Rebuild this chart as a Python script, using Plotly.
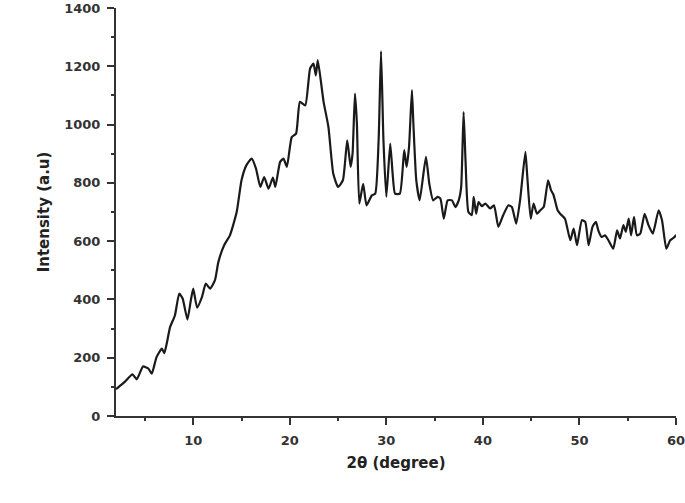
import plotly.graph_objects as go

two_theta = [2.0, 2.25, 2.9, 3.7, 4.15, 4.8, 5.35, 5.7, 6.2, 6.75, 7.0, 7.25, 7.6, 8.1, 8.55, 8.9,
             9.4, 9.75, 10.0, 10.4, 10.9, 11.3, 11.75, 12.25, 12.6, 13.2, 13.8, 14.5, 15.0, 15.5,
             16.05, 16.5, 16.95, 17.35, 17.8, 18.25, 18.5, 19.0, 19.35, 19.7, 20.2, 20.65, 21.05,
             21.6, 22.1, 22.45, 22.7, 22.9, 23.5, 24.0, 24.5, 25.0, 25.5, 25.95, 26.3, 26.5, 26.75,
             26.95, 27.2, 27.6, 27.95, 28.5, 28.85, 29.2, 29.45, 29.7, 30.0, 30.4, 30.65, 30.9,
             31.4, 31.85, 32.1, 32.35, 32.65, 32.8, 33.1, 33.45, 34.1, 34.45, 34.85, 35.3, 35.6,
             35.95, 36.35, 36.8, 37.15, 37.5, 37.75, 38.0, 38.2, 38.5, 38.85, 39.05, 39.3, 39.55,
             39.9, 40.25, 40.75, 41.15, 41.6, 42.1, 42.65, 43.0, 43.45, 43.85, 44.4, 44.6, 44.95,
             45.25, 45.6, 45.95, 46.3, 46.75, 47.05, 47.3, 47.75, 48.0, 48.5, 49.05, 49.4, 49.75,
             50.25, 50.6, 50.95, 51.35, 51.7, 51.95, 52.3, 52.65, 53.0, 53.5, 53.9, 54.2, 54.55,
             54.8, 55.1, 55.35, 55.65, 55.95, 56.3, 56.75, 57.15, 57.6, 58.2, 58.55, 59.0, 59.4,
             59.85, 60.0]

intensity = [92, 99, 117, 143, 126, 170, 163, 145, 202, 231, 216, 248, 305, 345, 420, 403,
             331, 397, 437, 372, 408, 454, 437, 466, 528, 586, 620, 700, 809, 860,
             883, 849, 786, 820, 780, 818, 786, 872, 883, 855, 957, 969, 1078,
             1066, 1192, 1209, 1169, 1221, 1078, 992, 832, 786, 809, 946, 855, 900, 1106,
             1003, 729, 797, 723, 757, 763, 946, 1252, 946, 752, 935, 832, 763,
             763, 912, 855, 923, 1118, 1003, 809, 740, 889, 797, 740, 752, 746,
             677, 740, 740, 717, 740, 786, 1043, 877, 700, 689, 752, 694, 734,
             720, 729, 712, 723, 649, 689, 723, 717, 660, 740, 906, 820, 677,
             729, 694, 706, 717, 809, 775, 760, 705, 694, 677, 603, 643, 586,
             672, 666, 586, 649, 666, 637, 614, 620, 603, 574, 637, 609, 655,
             632, 677, 620, 683, 620, 626, 694, 655, 626, 706, 672, 574, 603,
             614, 622]

x_ticks = [10, 20, 30, 40, 50, 60]
y_ticks = [0, 200, 400, 600, 800, 1000, 1200, 1400]

axis_color = "#333333"
font_family = "DejaVu Sans, Verdana, sans-serif"

fig = go.Figure()
fig.add_trace(go.Scatter(
    x=two_theta, y=intensity, mode="lines",
    line=dict(color="#1a1a1a", width=2.2, shape="spline", smoothing=0.5),
    showlegend=False, hoverinfo="skip",
))

fig.update_layout(
    width=685, height=503,
    margin=dict(l=116, r=9, t=8, b=87, autoexpand=False),
    paper_bgcolor="white", plot_bgcolor="white",
    font=dict(family=font_family, color=axis_color, size=12),
)

fig.update_xaxes(
    range=[2, 60], tickvals=x_ticks, ticktext=[str(v) for v in x_ticks], automargin=False,
    showline=True, linecolor=axis_color, linewidth=2, showgrid=False, zeroline=False,
    ticks="outside", ticklen=7, tickwidth=2, tickcolor=axis_color, ticklabelstandoff=4,
    ticklabeloverflow="allow",
    minor=dict(ticks="outside", ticklen=3, tickwidth=2, tickcolor=axis_color, dtick=5, tick0=0, showgrid=False),
    tickfont=dict(size=13, family=font_family, color=axis_color, weight="bold"),
    title=dict(text="2θ (degree)", font=dict(size=15, family=font_family, color="#222222", weight="bold"), standoff=11),
)
fig.update_yaxes(
    range=[0, 1400], tickvals=y_ticks, ticktext=[str(v) for v in y_ticks], automargin=False,
    showline=True, linecolor=axis_color, linewidth=2, showgrid=False, zeroline=False,
    ticks="outside", ticklen=7, tickwidth=2, tickcolor=axis_color, ticklabelstandoff=4,
    ticklabeloverflow="allow",
    minor=dict(ticks="outside", ticklen=3, tickwidth=2, tickcolor=axis_color, dtick=100, tick0=0, showgrid=False),
    tickfont=dict(size=13, family=font_family, color=axis_color, weight="bold"),
    title=dict(text="Intensity (a.u)", font=dict(size=15, family=font_family, color="#222222", weight="bold"), standoff=11),
)

fig.write_html("out.html", config={"displayModeBar": False},
               post_script="document.body.style.margin='0';document.body.style.overflow='hidden';")
